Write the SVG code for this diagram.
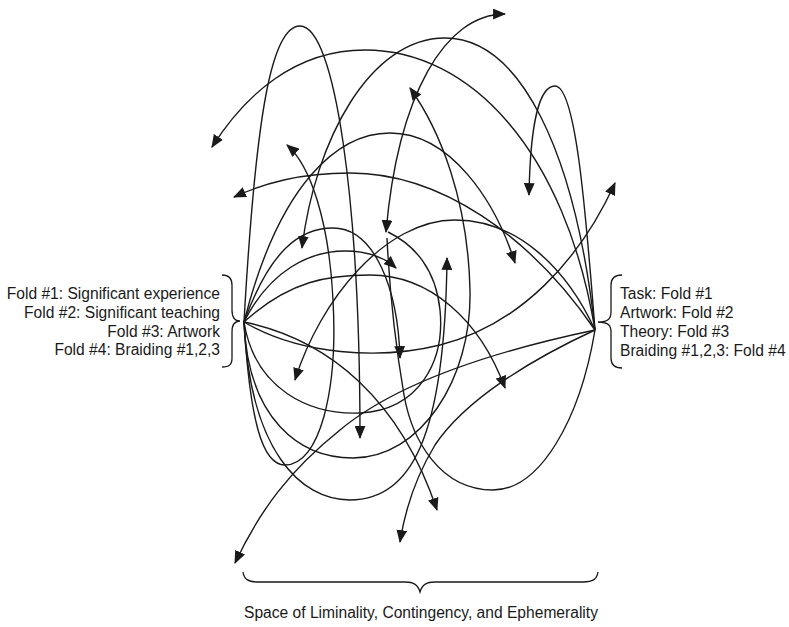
<svg xmlns="http://www.w3.org/2000/svg" width="789" height="627" viewBox="0 0 789 627">
<style>
.c{fill:none;stroke:#1a1a1a;stroke-width:1.4}
.b{fill:none;stroke:#1a1a1a;stroke-width:1.3}
.t{font-family:"Liberation Sans",Arial,sans-serif;font-size:15.6px;fill:#1a1a1a}
</style>
<defs>
<marker id="ah" viewBox="0 0 12 10" refX="11" refY="5" markerWidth="13" markerHeight="11" markerUnits="userSpaceOnUse" orient="auto-start-reverse">
<path d="M0,0 L12,5 L0,10 z" fill="#1a1a1a"/>
</marker>
</defs>
<rect width="789" height="627" fill="#fff"/>
<g id="connectors">
<path class="c" marker-end="url(#ah)" d="M244,322 C256,110 272,26 300,26 C335,26 360,200 360,438"/>
<path class="c" marker-end="url(#ah)" d="M595,330 C565,150 470,50 365,50 C295,50 245,95 212,147"/>
<path class="c" marker-end="url(#ah)" d="M595,330 C575,150 520,38 445,38 C370,38 315,140 302,248"/>
<path class="c" marker-end="url(#ah)" d="M244,322 C280,180 340,133 390,133 C450,133 495,200 515,263"/>
<path class="c" marker-end="url(#ah)" d="M595,330 C530,235 440,173 350,173 C300,173 265,183 234,197"/>
<path class="c" marker-end="url(#ah)" d="M244,322 C250,420 262,465 285,465 C320,465 338,390 333,300 C329,220 310,165 287,145"/>
<path class="c" marker-end="url(#ah)" d="M244,322 C300,355 380,360 440,345 C520,325 580,260 615,183"/>
<path class="c" marker-end="url(#ah)" d="M595,330 C565,265 515,220 455,220 C385,220 320,300 295,380"/>
<path class="c" marker-end="url(#ah)" d="M244,322 C250,450 300,500 350,500 C410,500 445,440 447,258"/>
<path class="c" marker-end="url(#ah)" d="M244,322 C248,420 300,458 353,458 C420,458 472,380 470,290 C468,200 440,130 410,88"/>
<path class="c" marker-end="url(#ah)" d="M595,330 C530,360 465,400 435,445 C415,478 405,510 400,542"/>
<path class="c" marker-end="url(#ah)" d="M244,322 C330,340 400,400 437,510"/>
<path class="c" marker-end="url(#ah)" d="M244,322 C270,270 310,251 345,251 C370,251 385,258 396,268"/>
<path class="c" marker-end="url(#ah)" d="M244,322 C270,250 300,228 333,228 C375,228 398,290 400,358"/>
<path class="c" marker-end="url(#ah)" d="M244,322 C290,280 330,275 370,275 C430,275 480,320 505,388"/>
<path class="c" marker-end="url(#ah)" d="M595,330 C500,350 400,380 340,430 C290,470 260,510 235,563"/>
<path class="c" marker-end="url(#ah)" d="M595,330 C585,200 575,86 555,86 C536,86 530,140 529,195"/>
<path class="c" marker-start="url(#ah)" marker-end="url(#ah)" d="M505,14 C445,14 398,95 386,232"/>
<path class="c" d="M595,330 C580,420 540,490 493,490 C440,490 412,440 404,395 C398,360 390,300 387,238"/>
<path class="c" d="M244,322 C255,390 310,415 360,413 C420,410 445,360 440,310 C436,270 415,245 388,232"/>
</g>
<g id="node-left">
<path class="b" d="M222,275 C229,275 232,278 232,285 L232,310 C232,317 234,321 240,321 C234,321 232,325 232,332 L232,358 C232,365 229,367 222,367"/>
<text class="t" text-anchor="end" x="220" y="299">Fold #1: Significant experience</text>
<text class="t" text-anchor="end" x="220" y="318">Fold #2: Significant teaching</text>
<text class="t" text-anchor="end" x="220" y="337">Fold #3: Artwork</text>
<text class="t" text-anchor="end" x="220" y="355">Fold #4: Braiding #1,2,3</text>
</g>
<g id="node-right">
<path class="b" d="M622,275 C615,275 611,278 611,285 L611,312 C611,318 609,322 598,322 C609,322 611,326 611,332 L611,358 C611,365 615,368 622,368"/>
<text class="t" x="620" y="299">Task: Fold #1</text>
<text class="t" x="620" y="318">Artwork: Fold #2</text>
<text class="t" x="620" y="337">Theory: Fold #3</text>
<text class="t" x="620" y="356">Braiding #1,2,3: Fold #4</text>
</g>
<g id="node-bottom">
<path class="b" d="M243,572 C244,579 248,582 258,582 L405,582 C414,582 418,585 420,592 C422,585 426,582 435,582 L583,582 C593,582 597,579 598,572"/>
<text class="t" text-anchor="middle" x="421" y="618">Space of Liminality, Contingency, and Ephemerality</text>
</g>
</svg>
